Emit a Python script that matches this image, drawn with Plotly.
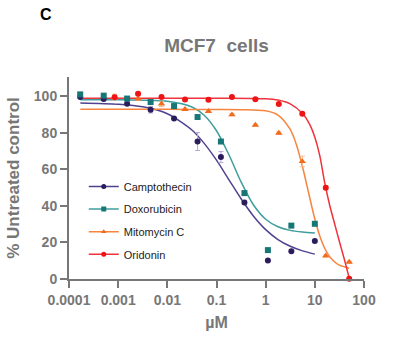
import plotly.graph_objects as go

# ---- data ----
conc_cd = [0.000169, 0.000508, 0.00152, 0.00457, 0.0137, 0.0412, 0.123, 0.370, 1.11, 3.33, 10]
conc_mo = [0.000847, 0.00254, 0.00762, 0.0229, 0.0686, 0.206, 0.617, 1.85, 5.56, 16.7, 50]

camptothecin = [99.5, 98.4, 95.9, 92.6, 87.8, 75.2, 66.7, 41.8, 10.1, 15.2, 20.8]
camptothecin_err = [0.8, 0.8, 0.6, 1.8, 0.6, 4.9, 3.0, 1.0, 0.5, 0.5, 0.5]
doxorubicin = [101.0, 100.3, 98.7, 96.8, 94.6, 88.6, 75.2, 47.0, 15.8, 29.2, 30.2]
doxorubicin_err = [1.0, 0.8, 1.2, 0.6, 0.6, 0.8, 0.8, 0.8, 0.5, 0.5, 0.5]
mitomycin = [99.6, 98.6, 95.8, 92.8, 91.7, 89.9, 84.2, 79.8, 64.3, 12.7, 9.3]
mitomycin_err = [1.5, 0.8, 1.5, 0.6, 0.6, 0.6, 0.6, 0.6, 2.9, 0.5, 0.5]
oridonin = [99.4, 101.4, 99.6, 98.2, 98.0, 99.5, 98.3, 95.7, 90.4, 49.9, 0.2]
oridonin_err = [1.2, 0.8, 0.6, 0.6, 0.6, 0.6, 0.6, 0.6, 0.8, 1.0, 0.5]

# fitted curves
curve_x_cd = [0.00017, 0.001, 0.00316, 0.01, 0.0316, 0.0562, 0.1, 0.178, 0.316, 0.562, 1, 1.78, 3.16, 5.62, 10]
curve_camptothecin = [96.3, 95.6, 94.2, 90.4, 81.5, 74.2, 65.0, 54.4, 43.9, 34.5, 27.0, 21.6, 17.9, 15.4, 13.6]
curve_doxorubicin = [98.0, 98.0, 97.8, 97.2, 94.1, 89.6, 81.1, 68.1, 53.1, 40.6, 32.7, 28.6, 26.6, 25.7, 25.2]
curve_x_mito = [0.00017, 0.001, 0.01, 0.1, 0.316, 1, 1.78, 3.16, 4.22, 5.62, 7.5, 10, 13.3, 17.8, 23.7, 31.6, 50]
curve_mitomycin = [92.8, 92.8, 92.8, 92.7, 92.6, 92.0, 89.7, 81.8, 73.5, 61.4, 46.9, 32.8, 21.7, 14.3, 10.0, 7.6, 5.9]
curve_x_ori = [0.00017, 0.01, 0.1, 1, 1.78, 3.16, 5.62, 7.94, 10, 12.6, 15.8, 20, 25.1, 31.6, 39.8, 50]
curve_oridonin = [98.9, 98.9, 98.9, 98.6, 97.9, 95.8, 90.5, 84.3, 77.5, 67.5, 53.0, 40.5, 30.5, 20.5, 10.8, 0.5]

x_tickvals = [0.0001, 0.001, 0.01, 0.1, 1, 10, 100]
x_ticktext = ["0.0001", "0.001", "0.01", "0.1", "1", "10", "100"]
y_tickvals = [0, 20, 40, 60, 80, 100]

series = [
    ("Camptothecin", conc_cd, camptothecin, camptothecin_err, curve_x_cd, curve_camptothecin,
     "#2b1d5c", "#4f4390", "#b3a6dc", "circle"),
    ("Doxorubicin", conc_cd, doxorubicin, doxorubicin_err, curve_x_cd, curve_doxorubicin,
     "#177777", "#3f9d9d", "#9fd8d8", "square"),
    ("Mitomycin C", conc_mo, mitomycin, mitomycin_err, curve_x_mito, curve_mitomycin,
     "#f26a1b", "#f7843f", "#f9b98f", "triangle-up"),
    ("Oridonin", conc_mo, oridonin, oridonin_err, curve_x_ori, curve_oridonin,
     "#ee1414", "#f0323c", "#f7a0a0", "circle"),
]

FONT = "Arial, Liberation Sans, sans-serif"
GREY = "#777777"

fig = go.Figure()
for name, cx, cy, cerr, fx, fy, mcol, lcol, ecol, sym in series:
    fig.add_trace(go.Scatter(
        x=fx, y=fy, mode="lines", line=dict(color=lcol, width=1.5, shape="spline", smoothing=0.8),
        showlegend=False, hoverinfo="skip", cliponaxis=False))
for name, cx, cy, cerr, fx, fy, mcol, lcol, ecol, sym in series:
    fig.add_trace(go.Scatter(
        x=cx, y=cy, mode="markers",
        marker=dict(color=mcol, size=6 if sym != "triangle-up" else 6.5, symbol=sym),
        error_y=dict(type="data", array=cerr, color=ecol, thickness=1, width=2.5),
        showlegend=False, cliponaxis=False))
for name, cx, cy, cerr, fx, fy, mcol, lcol, ecol, sym in series:
    fig.add_trace(go.Scatter(
        x=[None], y=[None], mode="lines+markers", name=name, legendgroup=name,
        line=dict(color=lcol, width=1.5),
        marker=dict(color=mcol, size=5, symbol=sym)))

fig.update_layout(
    width=412, height=347,
    margin=dict(l=61, r=48, t=77, b=68),
    paper_bgcolor="white", plot_bgcolor="white",
    font=dict(family=FONT, color=GREY),
    title=dict(text="<b>MCF7  cells</b>", x=0.5, xref="paper", xanchor="center",
               y=1 - 45 / 347, yanchor="middle",
               font=dict(size=19, color=GREY, family=FONT)),
    showlegend=True,
    legend=dict(x=0.05, xanchor="left", y=0.53, yanchor="top", traceorder="grouped",
                bgcolor="rgba(0,0,0,0)", font=dict(size=11, color="#222222", family=FONT),
                tracegroupgap=3.6, itemwidth=30),
    xaxis=dict(type="log", range=[-4, 2], tickvals=x_tickvals, ticktext=x_ticktext,
               showgrid=False, zeroline=False, showline=True, linecolor=GREY, linewidth=2,
               ticks="outside", ticklen=7, tickwidth=2, tickcolor=GREY,
               tickfont=dict(size=14, color=GREY, family=FONT, weight="bold"),
               title=dict(text="<b>µM</b>", font=dict(size=16, color=GREY, family=FONT), standoff=10)),
    yaxis=dict(range=[0, 110.5], tickvals=y_tickvals,
               showgrid=False, zeroline=False, showline=True, linecolor=GREY, linewidth=2,
               ticks="outside", ticklen=7, tickwidth=2, tickcolor=GREY,
               tickfont=dict(size=14, color=GREY, family=FONT, weight="bold"),
               title=dict(text="<b>% Untreated control</b>", font=dict(size=17, color=GREY, family=FONT),
                          standoff=10)),
    annotations=[dict(text="<b>C</b>", xref="paper", yref="paper", x=-61 / 303, y=1 + (77 - 15) / 202,
                      xanchor="left", yanchor="middle", showarrow=False, xshift=28,
                      font=dict(size=16, color="black", family=FONT))],
)

fig.write_html("out.html")
